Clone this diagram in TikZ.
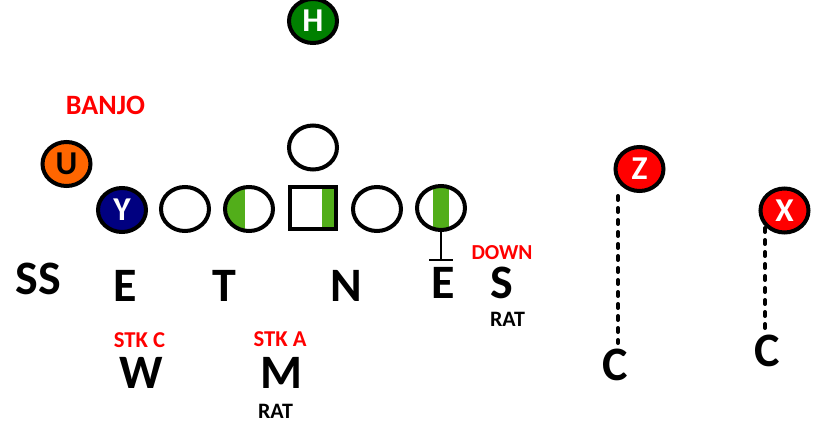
\documentclass[tikz,border=0pt]{standalone}
\usepackage{fontspec}
\setmainfont{Carlito}
\usetikzlibrary{shapes.geometric}

\definecolor{hgreen}{RGB}{0,128,0}
\definecolor{ynavy}{RGB}{0,0,128}
\definecolor{uorange}{RGB}{255,102,0}
\definecolor{wrred}{RGB}{255,0,0}
\definecolor{stripe}{RGB}{82,174,26}
\definecolor{callred}{RGB}{255,0,0}

\tikzset{
  player/.style={ellipse, draw=black, line width=3pt, minimum width=36pt,
    minimum height=33pt, inner sep=0pt,
    font=\bfseries\fontsize{25}{25}\selectfont, text height=16pt, text depth=0pt},
  oline/.style={ellipse, draw=black, line width=3pt, minimum width=36pt,
    minimum height=33pt, inner sep=0pt},
  center/.style={rectangle, draw=black, line width=3pt, minimum width=35pt,
    minimum height=31.5pt, inner sep=0pt},
  defender/.style={font=\bfseries\fontsize{36}{36}\selectfont, inner sep=0pt, anchor=base},
  callout/.style={font=\bfseries\fontsize{16.5}{16.5}\selectfont, text=callred,
    inner sep=0pt, anchor=base},
  tag/.style={font=\bfseries\fontsize{16.5}{16.5}\selectfont, inner sep=0pt, anchor=base},
  route/.style={line width=3pt, dash pattern=on 3pt off 6pt, line cap=round},
  block/.style={line width=1.6pt}
}

\begin{document}
\begin{tikzpicture}[x=0.75pt, y=-0.75pt]
\useasboundingbox (0,0) rectangle (828,438);

% stripes behind the linemen
\begin{scope}
  \clip (249,209) ellipse [x radius=18pt, y radius=16.5pt];
  \fill[stripe] (215,180) rectangle (244.5,240);
\end{scope}
\begin{scope}
  \clip (441,208) ellipse [x radius=18pt, y radius=16.5pt];
  \fill[stripe] (433,180) rectangle (449,240);
\end{scope}
\fill[stripe] (322,187) rectangle (336,229);

% offence
\node[player, fill=hgreen, text=white] (h) at (313,21) {H};
\node[player, fill=uorange, text=black] (u) at (66.5,164) {U};
\node[player, fill=ynavy, text=white] (y) at (122,210) {Y};
\node[oline] (lt) at (185,209) {};
\node[oline] (lg) at (249,209) {};
\node[center] (c) at (313,208) {};
\node[oline] (q) at (313,147.5) {};
\node[oline] (rg) at (377,209) {};
\node[oline] (rt) at (441,208) {};
\node[player, fill=wrred, text=white] (z) at (639.5,169) {Z};
\node[player, fill=wrred, text=white] (x) at (784.5,210.5) {X};

% block on the right tackle
\coordinate (stop) at (441,260);
\draw[block] (rt.south) -- (stop);
\draw[block] ([xshift=-9pt]stop) -- ([xshift=9pt]stop);

% calls
\node[callout, font=\bfseries\fontsize{21}{21}\selectfont] (banjo) at (105.5,114.3) {BANJO};
\node[callout, font=\bfseries\fontsize{16}{16}\selectfont] (down) at (502,260) {DOWN};
\node[callout, font=\bfseries\fontsize{17}{17}\selectfont] (stkc) at (139.5,347.5) {STK C};
\node[callout, font=\bfseries\fontsize{17}{17}\selectfont] (stka) at (280,346.5) {STK A};

% defence
\node[defender] (ss) at (38.5,295) {SS};
\node[defender] (e1) at (125,301) {E};
\node[defender] (t) at (224,301) {T};
\node[defender] (n) at (346,301) {N};
\node[defender] (e2) at (443,299) {E};
\node[defender] (s) at (502,298.5) {S};
\node[defender] (w) at (141,388.3) {W};
\node[defender] (m) at (281,388.3) {M};
\node[defender] (cl) at (614.7,380) {C};
\node[defender] (cr) at (767,366.7) {C};
\node[tag] (rats) at (507.5,326.7) {RAT};
\node[tag] (ratm) at (275.5,418.3) {RAT};

% coverage
\coordinate (zs) at (618,196);
\coordinate (xs) at (765,228);
\draw[route] (zs) -- (zs |- 0,343);
\draw[route] (xs) -- (xs |- 0,333);
\end{tikzpicture}
\end{document}
